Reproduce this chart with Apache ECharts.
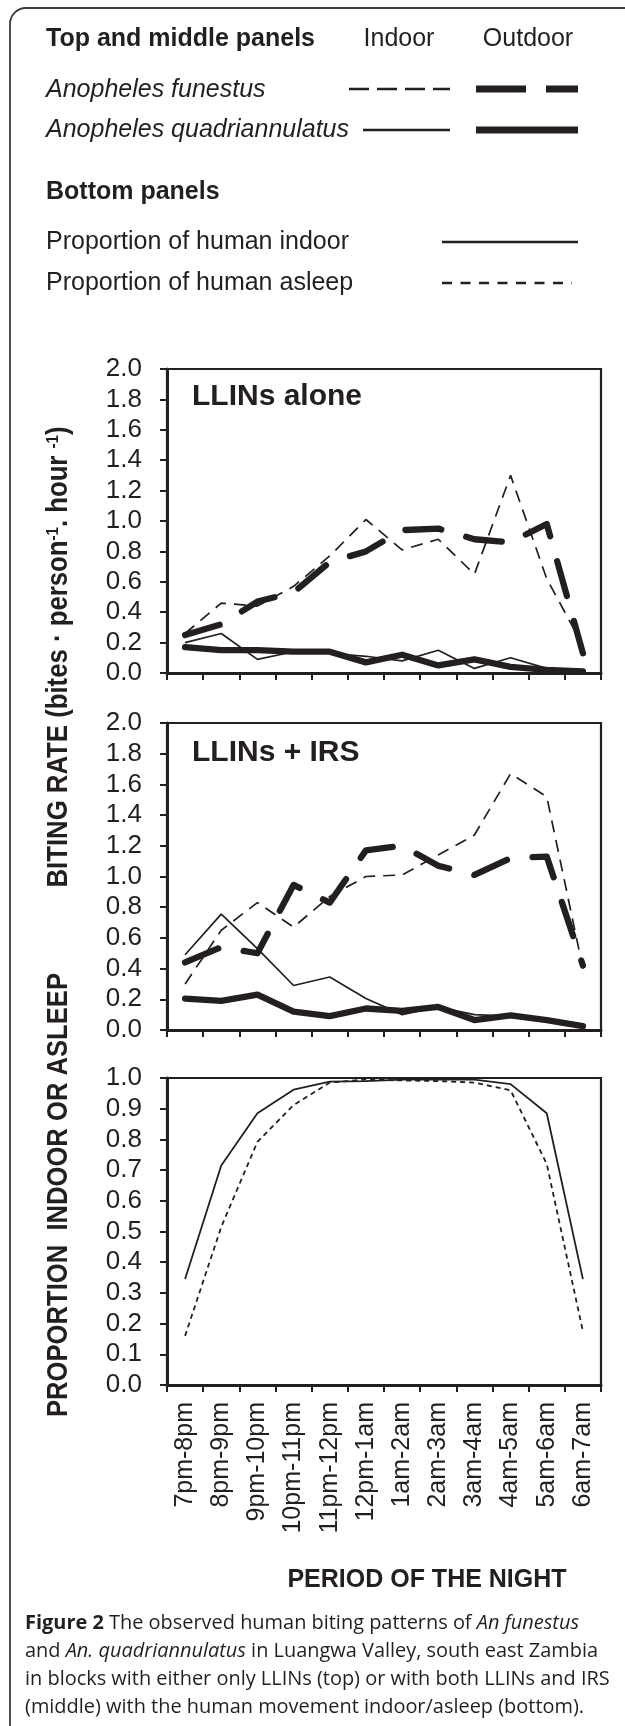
<!DOCTYPE html>
<html>
<head>
<meta charset="utf-8">
<script src="https://cdn.jsdelivr.net/npm/echarts@6/dist/echarts.min.js"></script>
<style>
html,body{margin:0;padding:0;background:#fff;}
#chart{width:625px;height:1726px;}
</style>
</head>
<body>
<div id="chart"></div>
<script>
// ---------------- data ----------------
const categories = ['7pm-8pm','8pm-9pm','9pm-10pm','10pm-11pm','11pm-12pm','12pm-1am','1am-2am','2am-3am','3am-4am','4am-5am','5am-6am','6am-7am'];

// Top panel: LLINs alone
const llinsFunestusIndoor  = [0.26, 0.46, 0.44, 0.57, 0.77, 1.01, 0.81, 0.88, 0.65, 1.30, 0.62, 0.18];
const llinsFunestusOutdoor = [0.25, 0.32, 0.47, 0.53, 0.73, 0.80, 0.94, 0.95, 0.88, 0.86, 0.98, 0.13];
const llinsQuadIndoor      = [0.20, 0.26, 0.09, 0.14, 0.13, 0.11, 0.08, 0.15, 0.03, 0.10, 0.03, 0.01];
const llinsQuadOutdoor     = [0.17, 0.15, 0.15, 0.14, 0.14, 0.07, 0.12, 0.05, 0.09, 0.04, 0.02, 0.01];

// Middle panel: LLINs + IRS
const irsFunestusIndoor  = [0.30, 0.65, 0.83, 0.67, 0.87, 1.00, 1.01, 1.14, 1.27, 1.67, 1.52, 0.40];
const irsFunestusOutdoor = [0.44, 0.54, 0.50, 0.945, 0.83, 1.17, 1.20, 1.07, 1.01, 1.12, 1.13, 0.42];
const irsQuadIndoor      = [0.49, 0.755, 0.53, 0.29, 0.345, 0.205, 0.10, 0.15, 0.10, 0.09, 0.06, 0.02];
const irsQuadOutdoor     = [0.205, 0.19, 0.23, 0.12, 0.09, 0.14, 0.125, 0.15, 0.065, 0.095, 0.065, 0.025];

// Bottom panel: human behaviour
const propIndoor = [0.345, 0.715, 0.885, 0.962, 0.988, 0.990, 0.995, 0.995, 0.995, 0.980, 0.885, 0.345];
const propAsleep = [0.160, 0.515, 0.792, 0.912, 0.985, 0.995, 0.992, 0.990, 0.985, 0.960, 0.720, 0.175];

const panelTitles = ['LLINs alone', 'LLINs + IRS'];
const captionLines = [
  '{b|Figure 2} The observed human biting patterns of {i|An funestus}',
  'and {i|An. quadriannulatus} in Luangwa Valley, south east Zambia',
  'in blocks with either only LLINs (top) or with both LLINs and IRS',
  '(middle) with the human movement indoor/asleep (bottom).'
];

// ---------------- styling ----------------
const INK = '#231f20';
const FF = "'Liberation Sans', Arial, Helvetica, sans-serif";
const CAPF = "'Open Sans', 'Liberation Sans', Arial, sans-serif";
const measureCtx = document.createElement('canvas').getContext('2d');
function measure(text, font){ measureCtx.font = font; return measureCtx.measureText(text).width; }

const chart = echarts.init(document.getElementById('chart'), null, {renderer:'canvas'});

const PL = 167, PW = 434;
const grids = [
  {left:PL, top:369, width:PW, height:304},
  {left:PL, top:723, width:PW, height:307},
  {left:PL, top:1078, width:PW, height:307}
].map(g => Object.assign(g, {show:true, borderColor:INK, borderWidth:2.2, backgroundColor:'transparent', containLabel:false}));

function xAx(i, labels){
  return {
    type:'category', gridIndex:i, data:categories, boundaryGap:true,
    axisLine:{show:true, lineStyle:{color:INK, width:3}},
    axisTick:{show:true, length:7, inside:false, lineStyle:{color:INK, width:2}},
    axisLabel:{show:labels, rotate:90, fontSize:25, fontFamily:FF, color:INK, margin:17, interval:0},
    splitLine:{show:false}
  };
}
function yAx(i, max, interval){
  return {
    type:'value', gridIndex:i, min:0, max:max, interval:interval,
    axisLine:{show:true, lineStyle:{color:INK, width:3}},
    axisTick:{show:true, length:7, inside:false, lineStyle:{color:INK, width:2}},
    axisLabel:{show:true, fontSize:26, fontFamily:FF, color:INK, margin:25, formatter:v => v.toFixed(1)},
    splitLine:{show:false}
  };
}

const thinDash = {color:INK, width:1.7, type:[12,8]};
const thickDash = {color:INK, width:6.3, type:[36,26], cap:'round', join:'round'};
const thinSolid = {color:INK, width:1.7, type:'solid'};
const thickSolid = {color:INK, width:6.3, type:'solid', cap:'round', join:'round'};

function ser(name, data, gi, ls, z){
  return {type:'line', name:name, data:data, xAxisIndex:gi, yAxisIndex:gi, symbol:'none', smooth:false,
    lineStyle:ls, z:z, silent:true, emphasis:{disabled:true}};
}

const series = [
  ser('LLINs An. funestus indoor', llinsFunestusIndoor, 0, thinDash, 2),
  ser('LLINs An. quadriannulatus indoor', llinsQuadIndoor, 0, thinSolid, 2),
  ser('LLINs An. funestus outdoor', llinsFunestusOutdoor, 0, thickDash, 3),
  ser('LLINs An. quadriannulatus outdoor', llinsQuadOutdoor, 0, thickSolid, 3),
  ser('IRS An. funestus indoor', irsFunestusIndoor, 1, thinDash, 2),
  ser('IRS An. quadriannulatus indoor', irsQuadIndoor, 1, thinSolid, 2),
  ser('IRS An. funestus outdoor', irsFunestusOutdoor, 1, thickDash, 3),
  ser('IRS An. quadriannulatus outdoor', irsQuadOutdoor, 1, thickSolid, 3),
  ser('Proportion of human indoor', propIndoor, 2, {color:INK, width:1.8, type:'solid'}, 2),
  ser('Proportion of human asleep', propAsleep, 2, {color:INK, width:1.8, type:[5,4]}, 2)
];

// ---------------- graphic (legend, titles, caption) ----------------
const g = [];
// frame
g.push({type:'rect', shape:{x:10, y:8, width:900, height:2000, r:[16,0,0,0]}, style:{fill:'none', stroke:'#3a3a3a', lineWidth:1.8}, z:0, silent:true});

function txt(x, y, text, font, align, extra){
  return Object.assign({type:'text', x:x, y:y, silent:true, z:10,
    style:{text:text, font:font, fill:INK, align:align||'left', verticalAlign:'middle'}}, extra||{});
}
function ln(x1, x2, y, w, dash){
  return {type:'line', silent:true, z:10, shape:{x1:x1, y1:y, x2:x2, y2:y},
    style:{stroke:INK, lineWidth:w, lineDash:dash||null, lineCap:'butt'}};
}
const LF = '25px ' + FF;
g.push(txt(46, 39, 'Top and middle panels', 'bold ' + LF));
g.push(txt(399, 39, 'Indoor', LF, 'center'));
g.push(txt(528, 39, 'Outdoor', LF, 'center'));
g.push(txt(46, 90, 'Anopheles funestus', 'italic ' + LF));
g.push(ln(349, 450, 89, 2.4, [20,8]));
g.push(ln(476, 578, 89, 7, [50,20]));
g.push(txt(46, 130, 'Anopheles quadriannulatus', 'italic ' + LF));
g.push(ln(363, 450, 130, 2.6));
g.push(ln(476, 578, 130, 7));
g.push(txt(46, 192, 'Bottom panels', 'bold ' + LF));
g.push(txt(46, 242, 'Proportion of human indoor', LF));
g.push(ln(442, 578, 242, 2.4));
g.push(txt(46, 283, 'Proportion of human asleep', LF));
g.push(ln(442, 572, 283, 2.4, [10,8.5]));

// panel titles
g.push(txt(192, 397, panelTitles[0], 'bold 30px ' + FF));
g.push(txt(192, 753, panelTitles[1], 'bold 30px ' + FF));

// y-axis titles (rotated)
const YT = 29;
const ytBold = 'bold ' + YT + 'px ' + FF;
const ytSup = 'bold 17px ' + FF;
const bitingW = measure('BITING RATE (bites · person', ytBold) + measure('. hour ', ytBold) + measure(')', ytBold) + 2*measure('-1', ytSup);
g.push({type:'text', x:59, y:657, rotation:Math.PI/2, scaleX:461/bitingW, scaleY:1, silent:true, z:10,
  style:{text:'{b|BITING RATE (bites · person}{s|-1}{b|. hour }{s|-1}{b|)}', align:'center', verticalAlign:'middle', fill:INK,
    rich:{b:{font:ytBold, fill:INK, verticalAlign:'bottom'}, s:{font:ytSup, fill:INK, verticalAlign:'top'}}}});
const propTxt = 'PROPORTION  INDOOR OR ASLEEP';
const propW = measure(propTxt, ytBold);
g.push({type:'text', x:59, y:1195, rotation:Math.PI/2, scaleX:444/propW, scaleY:1, silent:true, z:10,
  style:{text:propTxt, font:ytBold, fill:INK, align:'center', verticalAlign:'middle'}});

// x-axis title
g.push(txt(427, 1580, 'PERIOD OF THE NIGHT', 'bold 25px ' + FF, 'center'));

// caption: size chosen so the widest line fits the original text block width
const plainLines = captionLines.map(s => s.replace(/\{[bi]\|([^}]*)\}/g, '$1'));
const widest = Math.max.apply(null, plainLines.map(s => measure(s, '21px ' + CAPF)));
const capSize = 21 * 585 / widest;
const capFont = capSize.toFixed(2) + 'px ' + CAPF;
captionLines.forEach((line, k) => {
  g.push({type:'text', x:25, y:1623 + k*28, silent:true, z:10,
    style:{text:line, font:capFont, fill:INK, align:'left', verticalAlign:'middle',
      rich:{b:{font:'bold ' + capFont, fill:INK}, i:{font:'italic ' + capFont, fill:INK}}}});
});

chart.setOption({
  animation:false,
  backgroundColor:'#ffffff',
  grid:grids,
  xAxis:[xAx(0,false), xAx(1,false), xAx(2,true)],
  yAxis:[yAx(0,2,0.2), yAx(1,2,0.2), yAx(2,1,0.1)],
  series:series,
  graphic:{elements:g}
});
</script>
</body>
</html>
